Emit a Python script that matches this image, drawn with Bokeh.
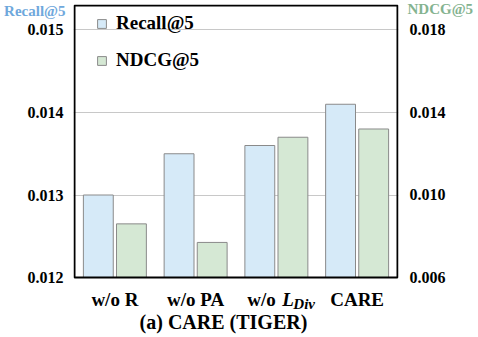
from bokeh.plotting import figure
from bokeh.models import (Range1d, FactorRange, LinearAxis, FixedTicker, Label,
                          Legend, LegendItem, ColumnDataSource, PrintfTickFormatter,
                          BoxAnnotation)
from bokeh.transform import dodge
from bokeh.embed import file_html
from bokeh.resources import INLINE

categories = ["w/o R", "w/o PA", "w/o L_Div", "CARE"]
recall = [0.0130, 0.0135, 0.0136, 0.0141]
ndcg = [0.0086, 0.0077, 0.0128, 0.0132]
left_ticks = [0.012, 0.013, 0.014, 0.015]
right_ticks = [0.006, 0.010, 0.014, 0.018]
left_title, right_title = "Recall@5", "NDCG@5"
chart_title = "(a) CARE (TIGER)"

AXIS_FONT = "'Liberation Serif'"
FONT = "Liberation Serif"
BLUE_FILL = "#d6eaf8"
GREEN_FILL = "#d5e8d4"
BAR_LINE = "#8a8a8a"

src = ColumnDataSource(dict(cat=categories, recall=recall, ndcg=ndcg))

p = figure(width=478, height=337, output_backend="svg", toolbar_location=None,
           x_range=FactorRange(*categories, range_padding=0.0124,
                               range_padding_units="absolute"),
           y_range=Range1d(0.011273, 0.015309),
           min_border_left=73, min_border_right=80, min_border_top=4,
           min_border_bottom=0)
p.extra_y_ranges = {"right": Range1d(0.003091, 0.019236)}

p.xaxis.visible = False
p.xgrid.visible = False
p.ygrid.ticker = FixedTicker(ticks=left_ticks[1:])
p.ygrid.grid_line_color = "#c8c8c8"
p.ygrid.grid_line_width = 1
p.outline_line_color = None

def style_axis(ax, ticks, standoff, color="black", size="16px"):
    ax.ticker = FixedTicker(ticks=ticks)
    ax.formatter = PrintfTickFormatter(format="%.3f")
    ax.axis_line_color = None
    ax.major_tick_line_color = None
    ax.minor_tick_line_color = None
    ax.major_tick_out = 0
    ax.major_tick_in = 0
    ax.minor_tick_out = 0
    ax.minor_tick_in = 0
    ax.major_label_standoff = standoff
    ax.major_label_text_font = AXIS_FONT
    ax.major_label_text_font_style = "bold"
    ax.major_label_text_font_size = size
    ax.major_label_text_color = color

style_axis(p.yaxis[0], left_ticks, 10)
raxis = LinearAxis(y_range_name="right")
p.add_layout(raxis, "right")
style_axis(raxis, right_ticks, 11)

# axis titles drawn as single overridden ticks of extra axes (top of the frame)
ltitle_axis = LinearAxis()
style_axis(ltitle_axis, [0.015236], -41, color="#6fa8dc", size="15px")
ltitle_axis.major_label_overrides = {0.015236: left_title}
p.add_layout(ltitle_axis, "left")

rtitle_axis = LinearAxis(y_range_name="right")
style_axis(rtitle_axis, [0.018994], -41, color="#84b390", size="15px")
rtitle_axis.major_label_overrides = {0.018994: right_title}
p.add_layout(rtitle_axis, "right")

r1 = p.vbar(x=dodge("cat", -0.205, range=p.x_range), top="recall", bottom=0.012,
            width=0.37, source=src, fill_color=BLUE_FILL, line_color=BAR_LINE,
            line_width=1)
r2 = p.vbar(x=dodge("cat", 0.205, range=p.x_range), top="ndcg", bottom=0.006,
            width=0.37, source=src, fill_color=GREEN_FILL, line_color=BAR_LINE,
            line_width=1, y_range_name="right")

# plot box
p.add_layout(BoxAnnotation(left=0, right=4, bottom=0.012, top=0.015297,
                           fill_alpha=0, line_color="black", line_width=2,
                           line_alpha=1, level="overlay"))

legend = Legend(items=[LegendItem(label="Recall@5", renderers=[r1]),
                       LegendItem(label="NDCG@5", renderers=[r2])],
                location=(23, 266), orientation="vertical")
legend.border_line_color = None
legend.background_fill_alpha = 0
legend.padding = 0
legend.margin = 0
legend.spacing = 15
legend.glyph_width = 11
legend.glyph_height = 11
legend.label_height = 22
legend.label_standoff = 9
legend.label_text_font = FONT
legend.label_text_font_style = "bold"
legend.label_text_font_size = "19px"
legend.label_text_color = "black"
p.add_layout(legend)

def lab(**kw):
    base = dict(text_baseline="alphabetic", text_font=FONT, text_font_style="bold",
                text_color="black")
    base.update(kw)
    p.add_layout(Label(**base))

# x tick labels
tick_y = 0.0117333
for i, c in enumerate(categories):
    if c == "w/o L_Div":
        lab(x=i + 0.5, y=tick_y, x_offset=-29, text="w/o", text_align="left",
            text_font_size="19px")
        lab(x=i + 0.5, y=tick_y, x_offset=6, text="L", text_align="left",
            text_font_style="bold italic", text_font_size="19px")
        lab(x=i + 0.5, y=tick_y, x_offset=17, y_offset=-4, text="Div", text_align="left",
            text_font_style="bold italic", text_font_size="15px")
    else:
        lab(x=i + 0.5, y=tick_y, text=c, text_align="center", text_font_size="19px")

lab(x=1.845, y=0.0114667, text=chart_title, text_align="center", text_font_size="20px")

open("out.html", "w").write(file_html(p, INLINE))
